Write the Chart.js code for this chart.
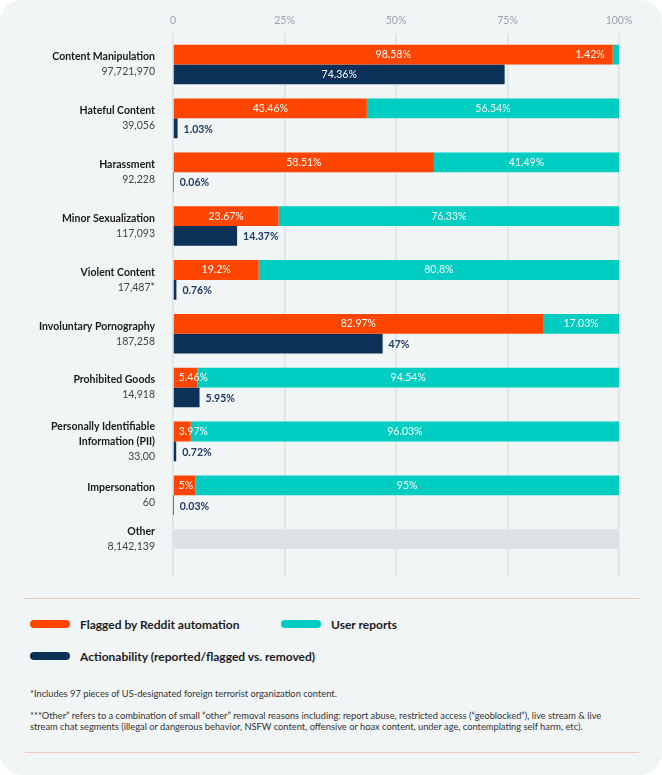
<!DOCTYPE html>
<html>
<head>
<meta charset="utf-8">
<script src="https://cdn.jsdelivr.net/npm/chart.js@4.4.1/dist/chart.umd.min.js"></script>
<style>
    body { margin: 0; background: #ffffff; font-family: Lato, "Open Sans", sans-serif; }
    .card { position: relative; width: 662px; height: 775px; background: #f1f5f6; border-radius: 22px; overflow: hidden; }
    .chart-box { position: absolute; left: 0; top: 0; width: 662px; height: 590px; }
    .rule { position: absolute; left: 25px; width: 614px; height: 1px; background: #f5c8b6; }
    .legend { position: absolute; left: 30px; top: 616px; display: grid; grid-template-columns: 251px auto; row-gap: 16px; }
    .legend-item { display: flex; align-items: center; height: 16px; font-size: 12px; font-weight: 700; color: #1c1c1c; }
    .legend-item .pill { width: 40px; height: 8px; border-radius: 4px; margin-right: 10px; }
    .legend-item.wide { grid-column: 1 / span 2; }
    .notes { position: absolute; left: 30px; top: 688px; width: 578px; font-size: 9.3px; line-height: 11.5px; color: #333; }
    .notes p { margin: 0 0 10px 0; }
</style>
</head>
<body>
<div class="card">
    <div class="chart-box"><canvas id="chart1"></canvas></div>
    <div class="rule" style="top: 598px;"></div>
    <div class="legend" id="legend"></div>
    <div class="notes">
        <p>*Includes 97 pieces of US-designated foreign terrorist organization content.</p>
        <p>***Other” refers to a combination of small “other” removal reasons including: report abuse, restricted access (“geoblocked”), live stream &amp; live stream chat segments (illegal or dangerous behavior, NSFW content, offensive or hoax content, under age, contemplating self harm, etc).</p>
    </div>
    <div class="rule" style="top: 752px;"></div>
</div>
<script>
const categories = [
    ['Content Manipulation'],
    ['Hateful Content'],
    ['Harassment'],
    ['Minor Sexualization'],
    ['Violent Content'],
    ['Involuntary Pornography'],
    ['Prohibited Goods'],
    ['Personally Identifiable', 'Information (PII)'],
    ['Impersonation'],
    ['Other']
];
const counts = ['97,721,970', '39,056', '92,228', '117,093', '17,487*', '187,258', '14,918', '33,00', '60', '8,142,139'];
const flaggedShare = [98.58, 43.46, 58.51, 23.67, 19.2, 82.97, 5.46, 3.97, 5, null];
const userShare = [1.42, 56.54, 41.49, 76.33, 80.8, 17.03, 94.54, 96.03, 95, null];
const otherShare = [null, null, null, null, null, null, null, null, null, 100];
const actionability = [74.36, 1.03, 0.06, 14.37, 0.76, 47, 5.95, 0.72, 0.03, null];
const tickLabels = ['0', '25%', '50%', '75%', '100%'];

const ORANGE = '#ff4500';
const TEAL = '#00cdc1';
const NAVY = '#0b3158';
const GREY = '#dde2e6';

// category names + counts on the left, drawn at the category positions
const sideLabels = {
    id: 'sideLabels',
    afterDraw(chart) {
        const ctx = chart.ctx;
        const y = chart.scales.y;
        const x0 = chart.chartArea.left - 18;
        ctx.save();
        ctx.textAlign = 'right';
        ctx.textBaseline = 'middle';
        categories.forEach((lines, i) => {
            let center = y.getPixelForTick(i);
            if (actionability[i] == null) {
                center = chart.getDatasetMeta(0).data[i].y;
            }
            const total = lines.length + 1;
            let ty = center - (total - 1) * 15 / 2;
            ctx.font = '700 10.5px Lato';
            ctx.fillStyle = '#1a1a1b';
            lines.forEach(line => {
                ctx.fillText(line, x0, ty);
                ty += 15;
            });
            ctx.font = '400 10.5px Lato';
            ctx.fillStyle = '#444444';
            ctx.fillText(counts[i], x0, ty);
        });
        ctx.restore();
    }
};

// percentage labels on the bars
const barLabels = {
    id: 'barLabels',
    afterDatasetsDraw(chart) {
        const ctx = chart.ctx;
        const mid = chart.scales.x.getPixelForValue(50);
        ctx.save();
        ctx.textBaseline = 'middle';
        chart.data.datasets.forEach((ds, di) => {
            if (ds.noLabel) return;
            const meta = chart.getDatasetMeta(di);
            meta.data.forEach((bar, i) => {
                const v = ds.data[i];
                if (v == null) return;
                const text = v + '%';
                const left = Math.min(bar.base, bar.x);
                const right = Math.max(bar.base, bar.x);
                const w = right - left;
                if (ds.stack === 'action') {
                    if (right > mid) {
                        ctx.font = '400 10.5px Lato';
                        ctx.fillStyle = '#ffffff';
                        ctx.textAlign = 'center';
                        ctx.fillText(text, (left + right) / 2, bar.y);
                    } else {
                        ctx.font = '700 10.5px Lato';
                        ctx.fillStyle = '#1d3a63';
                        ctx.textAlign = 'left';
                        ctx.fillText(text, right + 6, bar.y + 1);
                    }
                } else {
                    ctx.font = '400 10.5px Lato';
                    ctx.fillStyle = '#ffffff';
                    const tw = ctx.measureText(text).width;
                    if (w > tw + 12) {
                        ctx.textAlign = 'center';
                        ctx.fillText(text, (left + right) / 2, bar.y);
                    } else if (di === 0) {
                        ctx.textAlign = 'left';
                        ctx.fillText(text, left + 5, bar.y);
                    } else {
                        ctx.textAlign = 'right';
                        ctx.fillText(text, left - 8, bar.y);
                    }
                }
            });
        });
        ctx.restore();
    }
};

window.addEventListener('DOMContentLoaded', () => {
    const datasets = [
        { label: 'Flagged by Reddit automation', data: flaggedShare, backgroundColor: ORANGE, stack: 'share', legend: true },
        { label: 'User reports', data: userShare, backgroundColor: TEAL, stack: 'share', legend: true },
        { label: 'Other', data: otherShare, backgroundColor: GREY, stack: 'share', noLabel: true },
        { label: 'Actionability (reported/flagged vs. removed)', data: actionability, backgroundColor: NAVY, stack: 'action', legend: true }
    ];

    const ctx1 = document.getElementById('chart1').getContext('2d');
    new Chart(ctx1, {
        type: 'bar',
        data: {
            labels: categories.map(c => c.join(' ')),
            datasets: datasets.map(d => Object.assign({
                borderWidth: 0,
                categoryPercentage: 0.735,
                barPercentage: 1
            }, d))
        },
        options: {
            indexAxis: 'y',
            responsive: true,
            maintainAspectRatio: false,
            animation: false,
            layout: { padding: { left: 173, right: 43, top: 7, bottom: 14 } },
            plugins: {
                legend: { display: false },
                tooltip: { enabled: false }
            },
            scales: {
                x: {
                    position: 'top',
                    stacked: true,
                    min: 0,
                    max: 100,
                    border: { display: false },
                    grid: { color: '#dce2e6', lineWidth: 1.5, tickLength: 4 },
                    ticks: {
                        stepSize: 25,
                        padding: 7,
                        color: '#9aa4ab',
                        font: { family: 'Lato', size: 10.5 },
                        callback: (v, i) => tickLabels[i]
                    }
                },
                y: {
                    stacked: true,
                    display: false
                }
            }
        },
        plugins: [barLabels, sideLabels]
    });

    // legend from the dataset list
    const legendEl = document.getElementById('legend');
    datasets.filter(d => d.legend).forEach((d, i) => {
        const item = document.createElement('div');
        item.className = 'legend-item' + (i === 2 ? ' wide' : '');
        item.innerHTML = '<span class="pill" style="background:' + d.backgroundColor + '"></span>' + d.label;
        legendEl.appendChild(item);
    });
});
</script>
</body>
</html>
